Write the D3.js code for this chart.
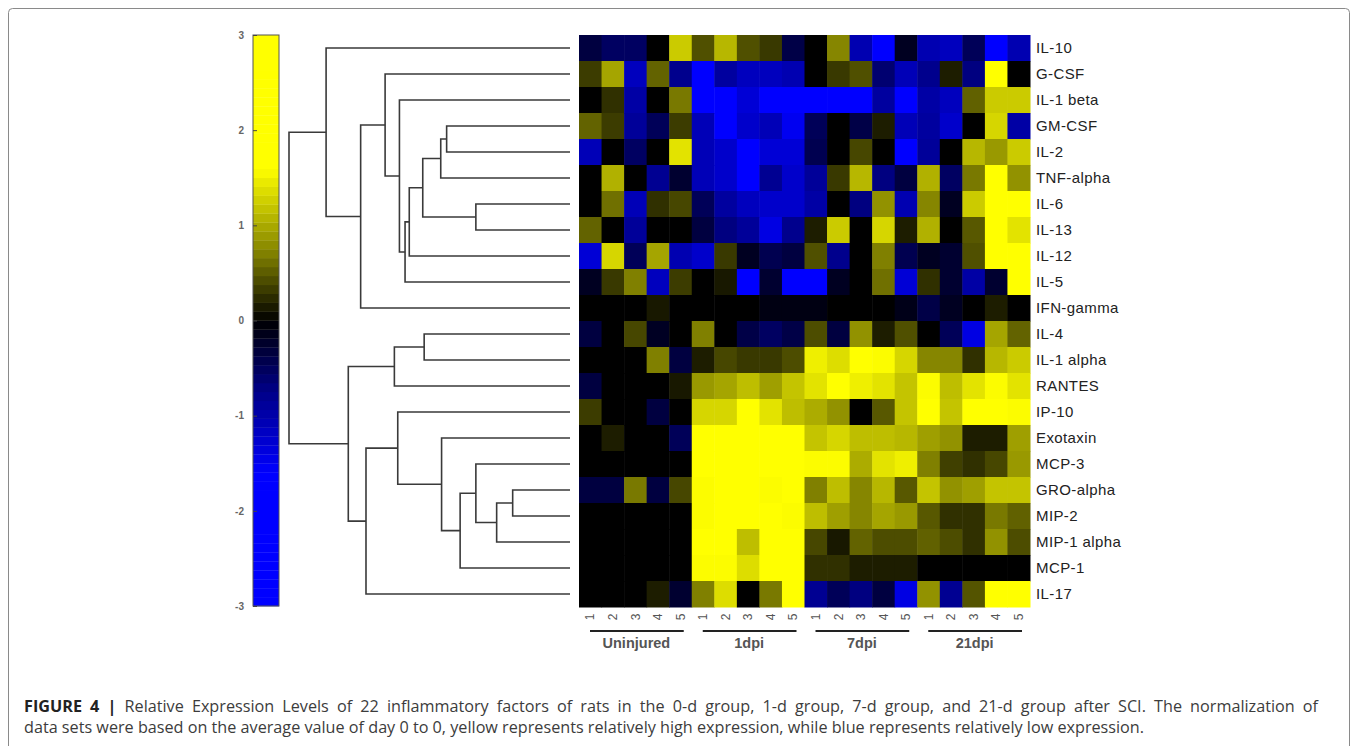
<!DOCTYPE html>
<html>
<head>
<meta charset="utf-8">
<script src="https://cdn.jsdelivr.net/npm/d3@7/dist/d3.min.js"></script>
<style>
  html, body { margin: 0; padding: 0; background: #fff; }
  svg { display: block; }
</style>
</head>
<body>
<svg id="chart" width="1358" height="746"></svg>
<script>
// ---------------- DATA ----------------
const factors = ["IL-10","G-CSF","IL-1 beta","GM-CSF","IL-2","TNF-alpha","IL-6","IL-13","IL-12","IL-5","IFN-gamma","IL-4","IL-1 alpha","RANTES","IP-10","Exotaxin","MCP-3","GRO-alpha","MIP-2","MIP-1 alpha","MCP-1","IL-17"];
const groups = ["Uninjured","1dpi","7dpi","21dpi"];
const replicates = ["1","2","3","4","5"];
const colorTicks = [3,2,1,0,-1,-2,-3];

// relative expression, one row per factor, 20 columns (4 groups x 5 rats)
const vIL10    = [-0.35,-0.53,-0.53,0,1.23, 0.44,1.09,0.44,0.31,-0.39, 0,0.74,-1.05,-1.6,-0.18, -1.05,-1.14,-0.48,-1.6,-1.05];
const vGCSF    = [0.33,0.96,-1.14,0.54,-0.79, -1.6,-0.92,-1.14,-1.14,-1.05, 0,0.31,0.44,-0.61,-1.09, -0.79,0.16,-0.7,2,0];
const vIL1b    = [0,0.26,-0.96,0,0.66, -1.6,-1.6,-1.31,-1.6,-1.6, -1.6,-1.6,-1.6,-0.92,-1.6, -0.96,-1.14,0.53,1.23,1.23];
const vGMCSF   = [0.54,0.33,-0.88,-0.48,0.33, -1.09,-1.6,-1.23,-1.09,-1.5, -0.48,0,-0.39,0.16,-1.09, -0.92,-1.23,0,1.31,-0.96];
const vIL2     = [-1.09,0,-0.53,0,1.4, -1.09,-1.23,-1.6,-1.31,-1.31, -0.44,0,0.39,0,-1.6, -0.88,0,1.09,0.88,1.23];
const vTNF     = [0,1.05,0,-0.83,-0.26, -1.09,-1.23,-1.6,-0.83,-1.23, -0.88,0.31,1.09,-0.7,-0.35, 1.05,-0.53,0.66,2,0.83];
const vIL6     = [0,0.61,-1.09,0.26,0.39, -0.48,-0.92,-1.14,-1.23,-1.23, -0.96,0,-0.7,0.83,-1.05, 0.74,-0.18,1.23,2,1.7];
const vIL13    = [0.54,0,-0.88,0,0, -0.35,-0.7,-0.88,-1.4,-0.79, 0.16,1.23,0,1.31,0.16, 1.05,0,0.48,2,1.4];
const vIL12    = [-1.31,1.31,-0.48,0.96,-1.05, -1.23,0.31,-0.18,-0.44,-0.35, 0.44,-0.79,0,0.7,-0.44, -0.18,-0.26,0.44,2,2];
const vIL5     = [-0.18,0.31,0.7,-1.14,0.33, 0,0.13,-1.6,-0.26,-1.6, -1.6,-0.18,0,0.61,-1.31, 0.26,-0.26,-0.96,-0.26,2];
const vIFNg    = [0,0,0,0.13,0, 0,0,0,-0.1,-0.1, -0.1,0,0,0,-0.13, -0.39,-0.18,0,0.16,0];
const vIL4     = [-0.35,0,0.39,-0.19,0, 0.7,0,-0.39,-0.53,-0.39, 0.42,-0.35,0.83,0.16,0.44, 0,-0.48,-1.4,0.96,0.54];
const vIL1a    = [0,0,0,0.7,-0.35, 0.16,0.39,0.31,0.31,0.42, 1.49,1.36,2,1.58,1.31, 0.74,0.74,0.26,1.09,1.23];
const vRANTES  = [-0.35,0,0,0,0.13, 0.88,0.96,1.14,0.92,1.18, 1.4,2,1.49,1.4,1.18, 1.58,1.14,1.4,1.58,1.4];
const vIP10    = [0.33,0,0,-0.35,0, 1.31,1.31,2,1.4,1.14, 1.01,0.83,0,0.48,1.18, 1.7,1.18,2,2,1.58];
const vExotax  = [0,0.16,0,0,-0.48, 1.7,1.7,2,2,2, 1.18,1.31,1.14,1.14,1.09, 0.92,0.83,0.16,0.16,0.92];
const vMCP3    = [0,0,0,0,0, 2,2,2,2,2, 1.58,1.58,1.01,1.4,1.49, 0.7,0.35,0.26,0.39,0.88];
const vGRO     = [-0.35,-0.35,0.66,-0.35,0.39, 1.58,2,1.7,1.58,2, 0.7,1.14,0.74,1.09,0.48, 1.18,0.83,0.92,1.18,1.18];
const vMIP2    = [0,0,0,0,0, 1.58,2,1.7,1.62,1.58, 1.14,0.92,0.74,0.96,0.88, 0.48,0.26,0.26,0.66,0.53];
const vMIP1a   = [0,0,0,0,0, 2,2,1.14,2,2, 0.39,0.13,0.54,0.42,0.42, 0.53,0.42,0.26,0.83,0.42];
const vMCP1    = [0,0,0,0,0, 1.58,1.58,1.36,2,2, 0.26,0.26,0.16,0.16,0.16, 0,0,0,0,0];
const vIL17    = [0,0,0,0.16,-0.26, 0.7,1.36,0,0.66,2, -0.83,-0.48,-0.7,-0.35,-1.4, 0.83,-0.83,0.46,2,2];
const values = [vIL10,vGCSF,vIL1b,vGMCSF,vIL2,vTNF,vIL6,vIL13,vIL12,vIL5,vIFNg,vIL4,vIL1a,vRANTES,vIP10,vExotax,vMCP3,vGRO,vMIP2,vMIP1a,vMCP1,vIL17];

// hierarchical clustering of rows: [child A, child B, linkage distance]
// leaves are 0..21 (row order), merge k creates node 22+k
const linkage = [
  [17,18,0.204],[22,19,0.261],[6,7,0.335],[16,23,0.335],[25,20,0.391],
  [3,4,0.439],[15,26,0.457],[27,5,0.460],[11,12,0.519],[29,24,0.524],
  [31,8,0.572],[32,9,0.587],[2,33,0.607],[14,28,0.613],[30,13,0.625],
  [1,34,0.658],[35,21,0.726],[37,10,0.745],[36,38,0.789],[0,39,0.868],
  [41,40,1.0]
];

const captionHead = "FIGURE 4 | ";
const caption1 = "Relative Expression Levels of 22 inflammatory factors of rats in the 0-d group, 1-d group, 7-d group, and 21-d group after SCI. The normalization of";
const caption2 = "data sets were based on the average value of day 0 to 0, yellow represents relatively high expression, while blue represents relatively low expression.";

// ---------------- DRAW ----------------
const svg = d3.select("#chart");
const font = "'Liberation Sans', Arial, sans-serif";

// frame
svg.append("rect").attr("x", 8.5).attr("y", 8.5).attr("width", 1341).attr("height", 760)
  .attr("rx", 4).attr("fill", "none").attr("stroke", "#8a8a8a").attr("stroke-width", 1);

const columns = [];
groups.forEach(g => replicates.forEach(r => columns.push(g + "|" + r)));

const x = d3.scaleBand().domain(columns).range([579, 1030]);
const y = d3.scaleBand().domain(factors).range([35, 607]);
const color = d3.scaleLinear().domain([-3, -1.6, -0.7, 0, 0.7, 1.6, 3])
  .range(["#0000ff", "#0000ff", "#000080", "#000000", "#808000", "#ffff00", "#ffff00"]).clamp(true);

// heatmap cells
const cells = [];
factors.forEach((f, i) => columns.forEach((c, j) => cells.push({f, c, v: values[i][j]})));
svg.append("g").selectAll("rect").data(cells).join("rect")
  .attr("x", d => x(d.c)).attr("y", d => y(d.f))
  .attr("width", x.bandwidth() + 0.5).attr("height", y.bandwidth() + 0.5)
  .attr("fill", d => color(d.v));

// row labels
svg.append("g").selectAll("text").data(factors).join("text")
  .attr("x", 1036).attr("y", d => y(d) + y.bandwidth() / 2)
  .attr("dy", "0.35em").attr("font-family", font).attr("font-size", 15)
  .attr("letter-spacing", 0.4)
  .attr("fill", "#222").text(d => d);

// column labels (rotated)
svg.append("g").selectAll("text").data(columns).join("text")
  .attr("transform", d => `translate(${x(d) + x.bandwidth() / 2},617) rotate(-90)`)
  .attr("text-anchor", "middle").attr("dy", "0.35em")
  .attr("font-family", font).attr("font-size", 12).attr("fill", "#555")
  .text(d => d.split("|")[1]);

// group lines + labels
groups.forEach(g => {
  const x0 = x(g + "|" + replicates[0]);
  const x1 = x(g + "|" + replicates[replicates.length - 1]) + x.bandwidth();
  svg.append("line").attr("x1", x0 + 11).attr("x2", x1 - 8).attr("y1", 631).attr("y2", 631)
    .attr("stroke", "#222").attr("stroke-width", 2);
  svg.append("text").attr("x", (x0 + x1) / 2 + 1).attr("y", 643).attr("dy", "0.35em")
    .attr("text-anchor", "middle").attr("font-family", font).attr("font-weight", "bold")
    .attr("font-size", 14.5).attr("fill", "#555").text(g);
});

// dendrogram
const dx = d3.scaleLinear().domain([0, 1]).range([570, 289]);
const nodes = factors.map((f, i) => ({y: y(f) + y.bandwidth() / 2, h: 0}));
const dg = svg.append("g").attr("fill", "none").attr("stroke", "#3a3a3a").attr("stroke-width", 1.6);
linkage.forEach(([a, b, h]) => {
  const A = nodes[a], B = nodes[b];
  const path = d3.path();
  path.moveTo(dx(A.h), A.y); path.lineTo(dx(h), A.y);
  path.lineTo(dx(h), B.y); path.lineTo(dx(B.h), B.y);
  dg.append("path").attr("d", path.toString());
  nodes.push({y: (A.y + B.y) / 2, h});
});

// colorbar
const cy = d3.scaleLinear().domain([-3, 3]).range([606, 35]);
const nBands = 64;
const bands = d3.range(nBands).map(k => -3 + (k + 0.5) * 6 / nBands);
const cb = svg.append("g");
cb.selectAll("rect").data(bands).join("rect")
  .attr("x", 253).attr("width", 26)
  .attr("y", d => cy(d + 3 / nBands)).attr("height", cy(-3) - cy(-3 + 6 / nBands) + 0.3)
  .attr("fill", d => color(d));
cb.append("rect").attr("x", 253).attr("y", 35).attr("width", 26).attr("height", 571)
  .attr("fill", "none").attr("stroke", "#555").attr("stroke-width", 1);
const axis = d3.axisLeft(cy).tickValues(colorTicks).tickSizeInner(-4).tickSizeOuter(0).tickPadding(9)
  .tickFormat(d3.format("d"));
const ag = svg.append("g").attr("transform", "translate(253,0)").call(axis);
ag.select(".domain").remove();
ag.selectAll(".tick line").attr("stroke", "#444");
ag.selectAll(".tick text").attr("font-family", font).attr("font-size", 10)
  .attr("font-weight", "bold").attr("fill", "#666").text(d => d < 0 ? "-" + Math.abs(d) : d);

// caption: justified paragraph (last line natural width, first line stretched)
const cap = svg.append("g").attr("font-family", "'Open Sans', 'Liberation Sans', sans-serif")
  .attr("font-size", 15).attr("fill", "#3c3c3c");
const t1 = cap.append("text").attr("x", 24).attr("y", 712);
t1.append("tspan").attr("font-weight", "bold").attr("fill", "#222").text(captionHead);
t1.append("tspan").text(caption1);
const t2 = cap.append("text").attr("x", 24).attr("y", 733).text(caption2);
const w2 = t2.node().getComputedTextLength();
const fs = 15 * 1121 / w2;
cap.attr("font-size", fs);
const w1 = t1.node().getComputedTextLength();
const nSpaces = (captionHead + caption1).split(" ").length - 1;
const extra = Math.max(0, (1294 - w1) / nSpaces);
t1.attr("word-spacing", extra);
</script>
</body>
</html>
